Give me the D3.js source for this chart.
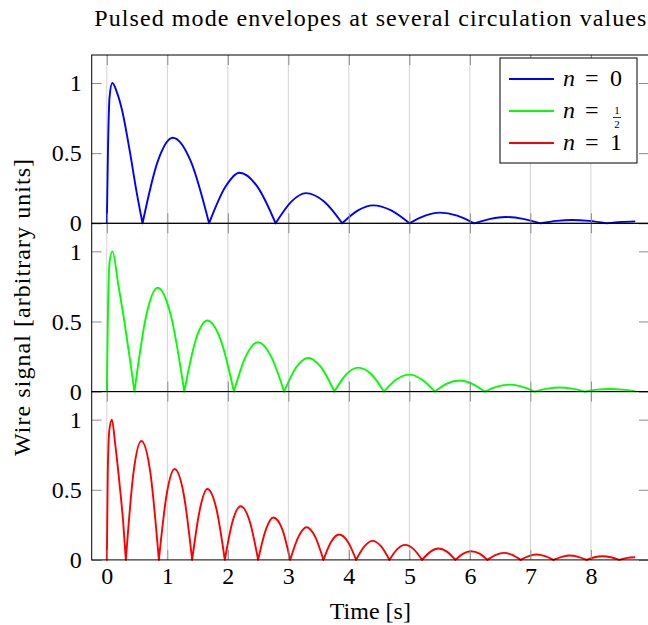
<!DOCTYPE html>
<html>
<head>
<meta charset="utf-8">
<script src="https://cdn.jsdelivr.net/npm/d3@7"></script>
<style>
  body { margin: 0; background: #fff; }
  svg { display: block; font-family: "Liberation Serif", "DejaVu Serif", serif; }
</style>
</head>
<body>
<svg id="chart" width="648" height="625"></svg>
<script>
// Points: [time (s), wire signal]
const signalN0 = [
  [0, 0], [0.02, 0.55], [0.045, 0.9], [0.09, 1.0], [0.17, 0.93], [0.25, 0.81], [0.385, 0.5], [0.485, 0.24], [0.59, 0],
  [0.84, 0.44], [1.09, 0.61], [1.39, 0.44], [1.69, 0],
  [1.96, 0.26], [2.19, 0.36], [2.49, 0.26], [2.79, 0],
  [3.05, 0.155], [3.29, 0.215], [3.59, 0.155], [3.89, 0],
  [4.15, 0.092], [4.4, 0.128], [4.7, 0.092], [5.0, 0],
  [5.26, 0.055], [5.5, 0.076], [5.79, 0.055], [6.07, 0],
  [6.34, 0.032], [6.58, 0.045], [6.88, 0.032], [7.17, 0],
  [7.43, 0.017], [7.68, 0.024], [7.97, 0.017], [8.26, 0],
  [8.5, 0.010], [8.72, 0.014]
];

const signalNHalf = [
  [0, 0], [0.02, 0.6], [0.045, 0.92], [0.093, 1.0], [0.19, 0.76], [0.29, 0.5], [0.375, 0.25], [0.457, 0],
  [0.65, 0.54], [0.84, 0.74], [1.06, 0.54], [1.28, 0],
  [1.47, 0.37], [1.66, 0.507], [1.88, 0.37], [2.10, 0],
  [2.30, 0.255], [2.50, 0.352], [2.71, 0.255], [2.93, 0],
  [3.13, 0.174], [3.33, 0.24], [3.54, 0.174], [3.76, 0],
  [3.96, 0.124], [4.15, 0.171], [4.37, 0.124], [4.58, 0],
  [4.79, 0.088], [5.0, 0.121], [5.2, 0.088], [5.42, 0],
  [5.62, 0.057], [5.83, 0.079], [6.03, 0.057], [6.25, 0],
  [6.45, 0.036], [6.66, 0.05], [6.86, 0.036], [7.07, 0],
  [7.28, 0.021], [7.48, 0.029], [7.69, 0.021], [7.90, 0],
  [8.1, 0.014], [8.31, 0.019], [8.52, 0.014], [8.73, 0.002]
];

const signalN1 = [
  [0, 0], [0.015, 0.6], [0.04, 0.92], [0.083, 1.0], [0.14, 0.82], [0.22, 0.5], [0.27, 0.27], [0.314, 0],
  [0.44, 0.62], [0.57, 0.848], [0.72, 0.62], [0.86, 0],
  [0.99, 0.47], [1.12, 0.648], [1.27, 0.47], [1.41, 0],
  [1.54, 0.365], [1.66, 0.505], [1.81, 0.365], [1.95, 0],
  [2.08, 0.277], [2.21, 0.383], [2.36, 0.277], [2.50, 0],
  [2.63, 0.218], [2.75, 0.302], [2.9, 0.218], [3.03, 0],
  [3.17, 0.168], [3.30, 0.233], [3.44, 0.168], [3.58, 0],
  [3.71, 0.131], [3.84, 0.181], [3.98, 0.131], [4.12, 0],
  [4.26, 0.098], [4.39, 0.136], [4.53, 0.098], [4.67, 0],
  [4.8, 0.077], [4.93, 0.107], [5.07, 0.077], [5.21, 0],
  [5.35, 0.059], [5.48, 0.081], [5.62, 0.059], [5.76, 0],
  [5.89, 0.045], [6.02, 0.062], [6.16, 0.045], [6.29, 0],
  [6.43, 0.036], [6.56, 0.05], [6.7, 0.036], [6.84, 0],
  [6.97, 0.027], [7.10, 0.038], [7.24, 0.027], [7.38, 0],
  [7.52, 0.022], [7.65, 0.031], [7.79, 0.022], [7.93, 0],
  [8.06, 0.019], [8.19, 0.026], [8.33, 0.019], [8.47, 0],
  [8.6, 0.014], [8.72, 0.019]
];

const seriesData = [signalN0, signalNHalf, signalN1];
const seriesValues = ["0", "1/2", "1"];
const seriesColors = ["#0000ff", "#00ff00", "#ff0000"];
const xTicks = [0, 1, 2, 3, 4, 5, 6, 7, 8];
const yTicks = [0, 0.5, 1];
const yTickLabels = ["0", "0.5", "1"];

const svg = d3.select("#chart");
const margin = { top: 55, right: -1, bottom: 65, left: 91.7 };
const width = 648 - margin.left - margin.right;
const panelH = 168.3;
const fontSize = 24;

const g = svg.append("g").attr("transform", `translate(${margin.left},${margin.top})`);
const x = d3.scaleLinear().domain([-0.25, 8.96]).range([0, width]);
const y = d3.scaleLinear().domain([0, 1.2]).range([panelH, 0]);

const line = d3.line()
  .x(d => x(d[0]))
  .y(d => y(d[1]))
  .curve(d3.curveMonotoneX);

// cut a series at its zeros so each lobe keeps a sharp cusp
function lobes(pts) {
  const out = [];
  let cur = [pts[0]];
  for (let i = 1; i < pts.length; i++) {
    cur.push(pts[i]);
    if (pts[i][1] === 0 && i < pts.length - 1) {
      out.push(cur);
      cur = [pts[i]];
    }
  }
  if (cur.length > 1) out.push(cur);
  return out;
}

function styleTicks(sel) {
  sel.select(".domain").remove();
  sel.selectAll(".tick line").attr("stroke", "#8c8c8c").attr("stroke-width", 1);
  sel.attr("font-family", null).attr("font-size", null);
  sel.selectAll("text").attr("fill", "#000").style("font-size", fontSize + "px");
}

seriesData.forEach((data, i) => {
  const p = g.append("g").attr("transform", `translate(0,${i * panelH})`);

  // vertical grid
  p.selectAll(".grid")
    .data(xTicks)
    .join("line")
    .attr("class", "grid")
    .attr("x1", d => x(d))
    .attr("x2", d => x(d))
    .attr("y1", 0)
    .attr("y2", panelH)
    .attr("stroke", "#d2d2d2")
    .attr("stroke-width", 1);

  p.append("path")
    .attr("fill", "none")
    .attr("stroke", seriesColors[i])
    .attr("stroke-width", 1.9)
    .attr("stroke-linejoin", "round")
    .attr("stroke-linecap", "round")
    .attr("d", lobes(data).map(l => line(l)).join(""));

  // inward ticks on all four sides
  p.append("g")
    .call(d3.axisLeft(y).tickValues(yTicks).tickFormat((d, j) => yTickLabels[j]).tickSize(-10).tickPadding(10))
    .call(styleTicks);

  p.append("g")
    .attr("transform", `translate(${width},0)`)
    .call(d3.axisRight(y).tickValues(yTicks).tickFormat("").tickSize(-10))
    .call(styleTicks);

  p.append("g")
    .call(d3.axisTop(x).tickValues(xTicks).tickFormat("").tickSize(-10))
    .call(styleTicks);

  p.append("g")
    .attr("transform", `translate(0,${panelH})`)
    .call(d3.axisBottom(x).tickValues(xTicks).tickFormat(i === seriesData.length - 1 ? d3.format("d") : "").tickSize(-10).tickPadding(7))
    .call(styleTicks);

  p.append("rect")
    .attr("width", width)
    .attr("height", panelH)
    .attr("fill", "none")
    .attr("stroke", "#000")
    .attr("stroke-width", 1);
});

// title and axis labels
svg.append("text")
  .attr("x", margin.left + width / 2)
  .attr("y", 26)
  .attr("text-anchor", "middle")
  .attr("textLength", 552)
  .attr("lengthAdjust", "spacing")
  .style("font-size", fontSize + "px")
  .text("Pulsed mode envelopes at several circulation values");

svg.append("text")
  .attr("x", margin.left + width / 2)
  .attr("y", 619)
  .attr("text-anchor", "middle")
  .style("font-size", fontSize + "px")
  .text("Time [s]");

svg.append("text")
  .attr("transform", `translate(30,${margin.top + 1.5 * panelH}) rotate(-90)`)
  .attr("text-anchor", "middle")
  .attr("textLength", 297)
  .attr("lengthAdjust", "spacing")
  .style("font-size", fontSize + "px")
  .text("Wire signal [arbitrary units]");

// legend
const legend = svg.append("g").attr("transform", "translate(500,58)");

legend.append("rect")
  .attr("width", 137)
  .attr("height", 105)
  .attr("fill", "#fff")
  .attr("stroke", "#000")
  .attr("stroke-width", 1);

seriesValues.forEach((v, i) => {
  const row = legend.append("g").attr("transform", `translate(0,${21 + i * 32})`);
  row.append("line")
    .attr("x1", 9)
    .attr("x2", 54)
    .attr("stroke", seriesColors[i])
    .attr("stroke-width", 1.9);
  row.append("text")
    .attr("x", 63)
    .attr("y", 7)
    .style("font-size", fontSize + "px")
    .style("font-style", "italic")
    .text("n");
  row.append("text")
    .attr("x", 85)
    .attr("y", 7)
    .style("font-size", fontSize + "px")
    .text("=");
  if (v.includes("/")) {
    const [num, den] = v.split("/");
    row.append("text")
      .attr("x", 117)
      .attr("y", 3.3)
      .attr("text-anchor", "middle")
      .style("font-size", "11px")
      .text(num);
    row.append("line")
      .attr("x1", 113)
      .attr("x2", 121)
      .attr("y1", 6.5)
      .attr("y2", 6.5)
      .attr("stroke", "#000")
      .attr("stroke-width", 0.8);
    row.append("text")
      .attr("x", 117)
      .attr("y", 16.5)
      .attr("text-anchor", "middle")
      .style("font-size", "11px")
      .text(den);
  } else {
    row.append("text")
      .attr("x", 110)
      .attr("y", 7)
      .style("font-size", fontSize + "px")
      .text(v);
  }
});
</script>
</body>
</html>
